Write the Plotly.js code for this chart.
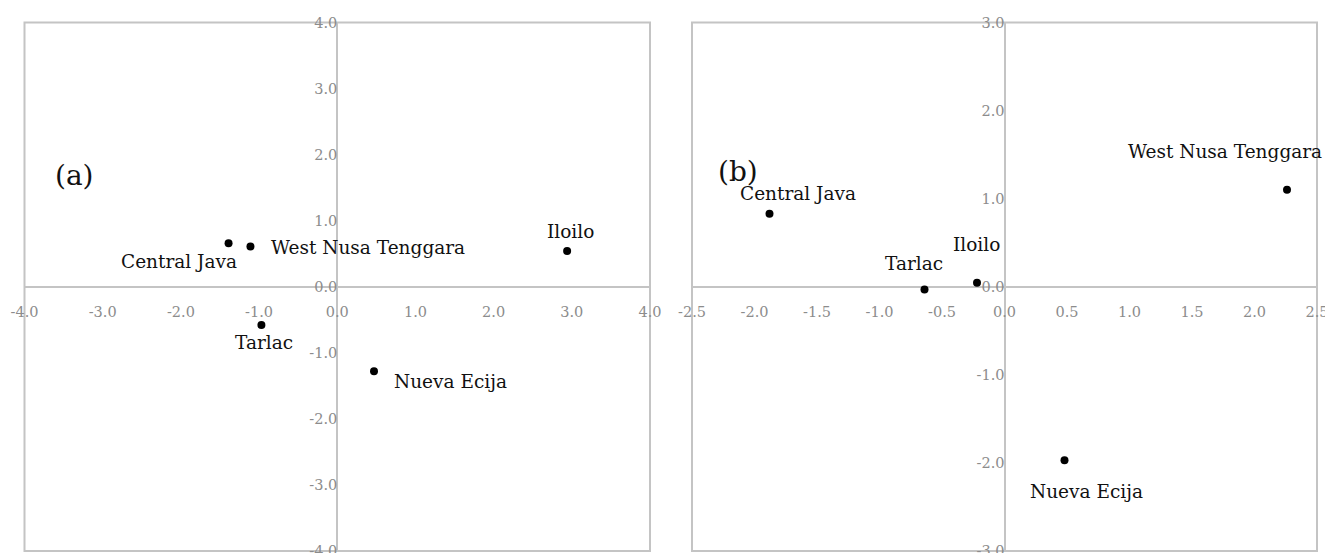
<!DOCTYPE html>
<html>
<head>
<meta charset="utf-8">
<script src="https://cdn.plot.ly/plotly-3.0.1.min.js"></script>
<style>html,body{margin:0;padding:0;background:#fff;}#chart{width:1325px;height:553px;}</style>
</head>
<body>
<div id="chart"></div>
<script>
// ---- data ----
const regions = ["Central Java", "West Nusa Tenggara", "Iloilo", "Tarlac", "Nueva Ecija"];
const aX = [-1.39, -1.11, 2.94, -0.97, 0.47];
const aY = [0.66, 0.61, 0.54, -0.58, -1.28];
const bX = [-1.88, 2.26, -0.22, -0.64, 0.48];
const bY = [0.83, 1.10, 0.045, -0.03, -1.97];

const aXTickVals = [-4, -3, -2, -1, 0, 1, 2, 3, 4];
const aXTickText = ["-4.0", "-3.0", "-2.0", "-1.0", "0.0", "1.0", "2.0", "3.0", "4.0"];
const aYTickVals = [-4, -3, -2, -1, 0, 1, 2, 3, 4];
const aYTickText = ["-4.0", "-3.0", "-2.0", "-1.0", "0.0", "1.0", "2.0", "3.0", "4.0"];
const bXTickVals = [-2.5, -2, -1.5, -1, -0.5, 0, 0.5, 1, 1.5, 2, 2.5];
const bXTickText = ["-2.5", "-2.0", "-1.5", "-1.0", "-0.5", "0.0", "0.5", "1.0", "1.5", "2.0", "2.5"];
const bYTickVals = [-3, -2, -1, 0, 1, 2, 3];
const bYTickText = ["-3.0", "-2.0", "-1.0", "0.0", "1.0", "2.0", "3.0"];
const panelTags = ["(a)", "(b)"];

// ---- styling ----
const W = 1325, H = 553;
const pxX = p => p / W, pxY = p => 1 - p / H;
const aDom = [pxX(24.5), pxX(650)];
const bDom = [pxX(692), pxX(1317)];
const yDom = [pxY(551), pxY(22.5)];
const gray = "#c4c4c4";
const tickFont = {family: "DejaVu Serif", size: 14.5, color: "#8c8c8c"};
const labelFont = {family: "DejaVu Serif", size: 18.5, color: "#111"};

// label offsets (px) [xshift, yshift, xanchor]
const aOff = [[-50, -18, "center"], [19, -1, "left"], [3, 20, "center"], [3, -17, "center"], [18, -10, "left"]];
const bOff = [[29, 20, "center"], [-62, 38, "center"], [0, 38, "center"], [-10, 26, "center"], [22, -31, "center"]];

function xAxis(dom, range, vals, text) {
  return {domain: dom, range: range, anchor: "free", position: (yDom[0] + yDom[1]) / 2,
    tickmode: "array", tickvals: vals, ticktext: text, ticks: "", showgrid: false,
    showline: false, zeroline: true, zerolinecolor: gray, zerolinewidth: 2,
    tickfont: tickFont, ticklabelstandoff: 15, ticklabeloverflow: "allow", fixedrange: true};
}
function yAxis(range, vals, text, xdom) {
  return {domain: yDom, range: range, anchor: "free", position: (xdom[0] + xdom[1]) / 2,
    tickmode: "array", tickvals: vals, ticktext: text, ticks: "", showgrid: false,
    showline: false, zeroline: true, zerolinecolor: gray, zerolinewidth: 2,
    tickfont: tickFont, ticklabelstandoff: 0, ticklabeloverflow: "allow", fixedrange: true};
}

const marker = {color: "#000", size: 8};
const traces = [
  {x: aX, y: aY, xaxis: "x", yaxis: "y", mode: "markers", type: "scatter", marker: marker, hoverinfo: "skip", text: regions},
  {x: bX, y: bY, xaxis: "x2", yaxis: "y2", mode: "markers", type: "scatter", marker: marker, hoverinfo: "skip", text: regions}
];

const annotations = [];
regions.forEach((r, i) => {
  annotations.push({x: aX[i], y: aY[i], xref: "x", yref: "y", text: r, showarrow: false,
    xanchor: aOff[i][2], yanchor: "middle", xshift: aOff[i][0], yshift: aOff[i][1], font: labelFont});
  annotations.push({x: bX[i], y: bY[i], xref: "x2", yref: "y2", text: r, showarrow: false,
    xanchor: bOff[i][2], yanchor: "middle", xshift: bOff[i][0], yshift: bOff[i][1], font: labelFont});
});
const tagFont = {family: "DejaVu Serif", size: 28, color: "#111"};
annotations.push({x: -3.36, y: 1.69, xref: "x", yref: "y", text: panelTags[0], showarrow: false,
  xanchor: "center", yanchor: "middle", font: tagFont});
annotations.push({x: -2.13, y: 1.31, xref: "x2", yref: "y2", text: panelTags[1], showarrow: false,
  xanchor: "center", yanchor: "middle", font: tagFont});

const layout = {
  width: W, height: H, margin: {l: 0, r: 0, t: 0, b: 0},
  paper_bgcolor: "#fff", plot_bgcolor: "rgba(0,0,0,0)", showlegend: false,
  xaxis: xAxis(aDom, [-4, 4], aXTickVals, aXTickText),
  yaxis: yAxis([-4, 4], aYTickVals, aYTickText, aDom),
  xaxis2: xAxis(bDom, [-2.5, 2.5], bXTickVals, bXTickText),
  yaxis2: yAxis([-3, 3], bYTickVals, bYTickText, bDom),
  shapes: [
    {type: "rect", xref: "x domain", yref: "y domain", x0: 0, x1: 1, y0: 0, y1: 1, line: {color: gray, width: 2}, layer: "below"},
    {type: "rect", xref: "x2 domain", yref: "y2 domain", x0: 0, x1: 1, y0: 0, y1: 1, line: {color: gray, width: 2}, layer: "below"}
  ],
  annotations: annotations
};

Plotly.newPlot("chart", traces, layout, {displayModeBar: false, staticPlot: true});
</script>
</body>
</html>
